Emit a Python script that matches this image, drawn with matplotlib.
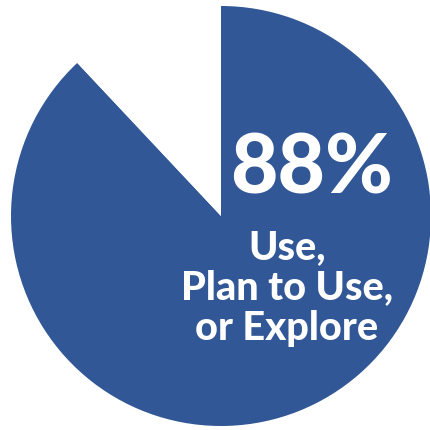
import matplotlib.pyplot as plt

# data
shares = [88, 12]
colors = ['#315796', 'white']
big_label = '88%'
sub_label = 'Use,\nPlan to Use,\nor Explore'

fig = plt.figure(figsize=(4.31, 4.31), dpi=100)
ax = fig.add_axes([0, 0, 1, 1])

ax.pie(shares, colors=colors, startangle=90, counterclock=False,
       radius=1.0, center=(0, 0))

# place pie like the reference (center ~(221,217) px, radius ~210 px)
ax.set_xlim(-221 / 210, 210 / 210)
ax.set_ylim(-214 / 210, 217 / 210)
ax.set_aspect('equal')
ax.axis('off')

def px(x, y):
    return (x - 221) / 210, (217 - y) / 210

ax.text(*px(312, 170), big_label, ha='center', va='center', color='white',
        fontsize=59, fontweight=900, family='Lato')
ax.text(*px(287, 288), sub_label, ha='center', va='center', color='white',
        fontsize=28.5, fontweight=900, family='Lato', linespacing=1.12)

fig.savefig('out.png', dpi=100)
